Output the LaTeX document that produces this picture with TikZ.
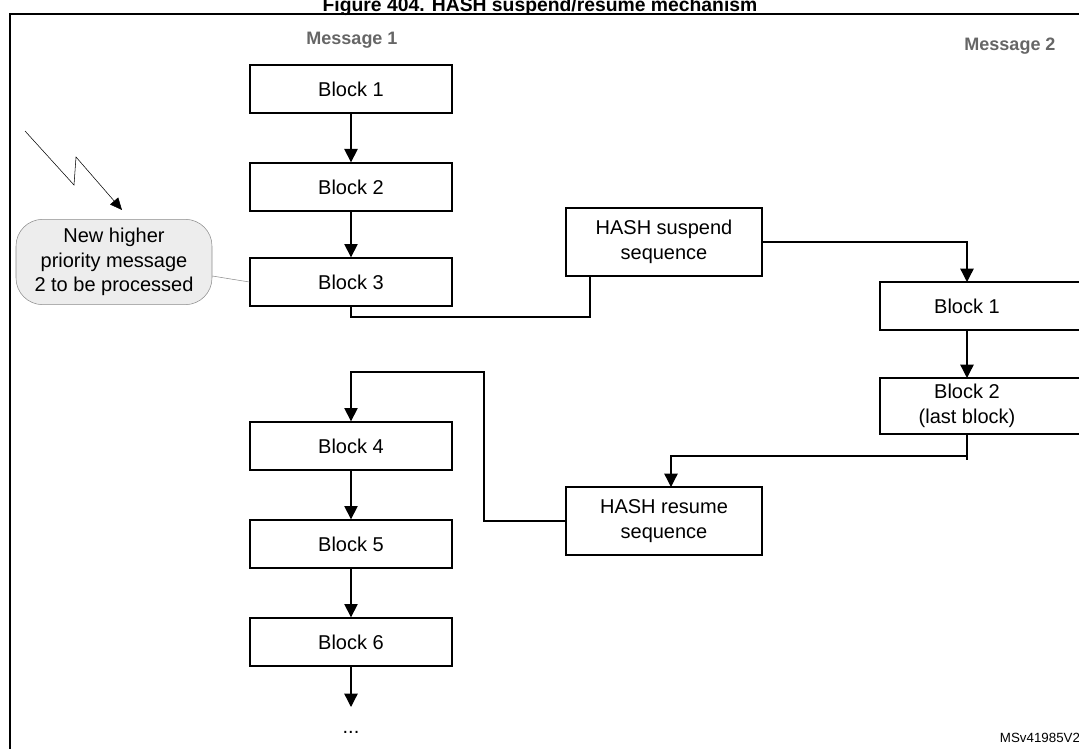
\documentclass[tikz,border=0pt]{standalone}
\usepackage{fontspec}
\setmainfont{Liberation Sans}
\usetikzlibrary{arrows.meta}
\begin{document}
\begin{tikzpicture}[x=0.75pt,y=-0.75pt,
	blk/.style={draw,line width=1pt,minimum width=151.5pt,minimum height=36pt,align=center,inner sep=0pt,font=\fontsize{15}{18.5}\selectfont},
	seq/.style={blk,minimum width=147pt,minimum height=51pt},
	flow/.style={line width=1pt,-{Triangle[length=10pt,width=10pt]}},
	hdr/.style={text=black!60,font=\bfseries\fontsize{13.5}{16}\selectfont}]
	\useasboundingbox (0,0) rectangle (1079,749);
	% Frame and title
	\draw[line width=1pt] (10,14) rectangle (1090,760);
	\node[font=\bfseries\fontsize{14.5}{16}\selectfont,inner sep=0pt] (title) at (540,7) {Figure 404. HASH suspend/resume mechanism};
	\node[hdr] (msg1) at (352,40) {Message 1};
	\node[hdr] (msg2) at (1010,46) {Message 2};

	% Message 1
	\node[blk] (b1) at (351,89) {Block 1};
	\node[blk] (b2) at (351,187) {Block 2};
	\node[blk] (b3) at (351,282) {Block 3};
	\node[blk] (b4) at (351,446) {Block 4};
	\node[blk] (b5) at (351,544) {Block 5};
	\node[blk] (b6) at (351,642) {Block 6};
	\node[font=\fontsize{15}{18}\selectfont] (dots) at (351,732) {...};
	\coordinate (dotsin) at (351,707);
	\draw[flow] (b1) -- (b2);
	\draw[flow] (b2) -- (b3);
	\draw[flow] (b4) -- (b5);
	\draw[flow] (b5) -- (b6);
	\draw[flow] (b6) -- (dotsin);

	% Suspend / resume
	\node[seq] (susp) at (664,242) {HASH suspend\\sequence};
	\node[seq] (resm) at (664,521) {HASH resume\\sequence};

	% Message 2
	\draw[line width=1pt] (880,282) rectangle (1090,330);
	\draw[line width=1pt] (880,378) rectangle (1090,434);
	\node[font=\fontsize{15}{18.5}\selectfont] (m2b1) at (967,306) {Block 1};
	\node[font=\fontsize{15}{18.5}\selectfont,align=center] (m2b2) at (967,406) {Block 2\\(last block)};
	\coordinate (m2b1t) at (967,282);
	\coordinate (m2b1b) at (967,330);
	\coordinate (m2b2t) at (967,378);
	\coordinate (m2b2b) at (967,434);
	\coordinate (suspin) at (590,276);
	\coordinate (resmin) at (671,487);

	% Connectors
	\draw[line width=1pt] (b3.south) |- (590,317) -- (suspin);
	\draw[flow] (susp.east) -| (m2b1t);
	\draw[flow] (m2b1b) -- (m2b2t);
	\draw[line width=1pt] (m2b2b) -- (967,460);
	\draw[flow] (967,456) -| (resmin);
	\draw[flow] (resm.west) -| (484,372) -| (b4.north);

	% Callout
	\node[draw=black!45,fill=black!7,rounded corners=20pt,minimum width=147pt,minimum height=64pt,inner sep=1pt,align=center,font=\fontsize{15}{18.5}\selectfont] (note) at (114,262) {New higher\\priority message\\2 to be processed};
	\draw[black!45] (note.east) ++(0,14) -- (b3.west);
	\draw[-{Triangle[length=9pt,width=8pt]}] (25,131) -- (74,185) -- (76,157) -- (122,210);
	\node[font=\fontsize{10}{12}\selectfont] (ref) at (1040,738) {MSv41985V2};
\end{tikzpicture}
\end{document}
